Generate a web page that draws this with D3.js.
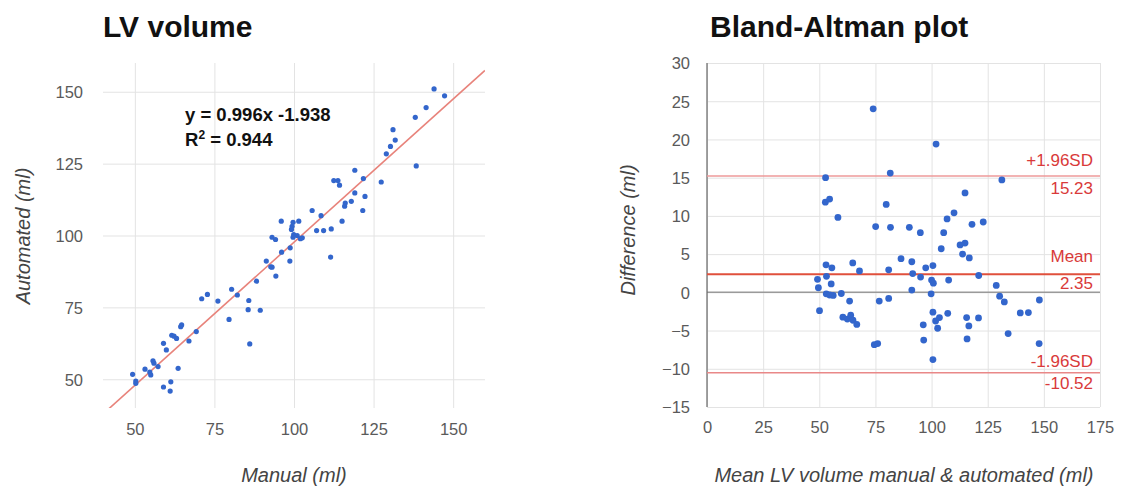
<!DOCTYPE html>
<head>
<meta charset="utf-8">
<style>
body { margin: 0; background: #fff; }
svg text { font-family: 'Liberation Sans', Arial, sans-serif; }
.grid line { stroke: #e3e3e3; stroke-width: 1; }
.grid path { display: none; }
.grid text { fill: #5a5a5a; font-size: 16.5px; }
.title { font-size: 30px; font-weight: bold; fill: #111; }
.axis-title { font-size: 20px; font-style: italic; fill: #444; }
.dot { fill: #3366cc; }
.lim { fill: #d93a3a; font-size: 17px; }
</style>
<title>LV volume / Bland-Altman</title>
</head>
<body>
<svg width="1134" height="488"></svg>
<script src="https://cdn.jsdelivr.net/npm/d3@7"></script>
<script>

// LV volume: manual vs automated (ml)
var manual = [49.3, 50.3, 50.3, 53.2, 54.7, 55.0, 55.7, 56.0, 57.3, 59.0, 59.9, 59.0, 61.3, 61.1, 61.6, 62.3,
  63.1, 63.6, 64.4, 64.7, 67.0, 69.3, 71.0, 72.8, 76.1, 79.6, 80.4, 82.2, 85.8, 85.6, 86.1, 88.2, 89.4, 91.3,
  92.7, 93.1, 94.3, 96.1, 98.7, 98.8, 111.5, 93.1, 94.2, 96.0, 99.7, 101.5, 99.4, 99.2, 99.9, 101.0, 99.7,
  102.0, 102.6, 105.7, 108.5, 107.1, 109.3, 111.7, 115.1, 116.1, 115.9, 118.0, 121.6, 119.1, 122.3, 112.5,
  113.8, 114.3, 121.8, 127.4, 119.1, 129.0, 130.3, 131.8, 131.1, 138.4, 138.1, 141.5, 144.0, 147.3];
var automated = [51.7, 49.4, 48.6, 53.5, 52.5, 51.5, 56.4, 55.6, 54.4, 62.5, 60.2, 47.3, 49.1, 45.9, 65.3, 65.0,
  64.2, 53.8, 68.3, 68.9, 63.3, 66.6, 78.0, 79.5, 77.2, 70.8, 81.3, 79.3, 77.4, 74.2, 62.3, 84.1, 74.0, 91.1,
  89.1, 89.0, 85.9, 94.2, 91.1, 95.7, 92.5, 99.4, 98.6, 105.0, 104.6, 105.0, 103.2, 102.1, 100.3, 100.0, 99.4,
  98.9, 99.2, 108.7, 106.9, 101.7, 101.7, 102.3, 105.0, 111.3, 110.2, 111.9, 108.7, 114.8, 113.6, 119.1,
  119.1, 117.5, 119.8, 118.6, 122.7, 128.4, 131.0, 133.2, 136.8, 124.2, 141.1, 144.5, 151.0, 148.6];
var lvTicks = [50, 75, 100, 125, 150];
var fitSlope = 0.996, fitIntercept = -1.938, fitR2 = 0.944;

// Bland-Altman: mean of both vs difference (ml)
var baMean = [74.0, 102.0, 52.8, 81.6, 131.3, 52.7, 54.6, 79.8, 58.3, 114.9, 110.0, 106.9, 123.0, 118.0, 75.1,
  81.7, 90.1, 95.0, 105.4, 104.3, 112.7, 114.9, 113.8, 116.8, 86.4, 91.2, 64.9, 53.0, 55.6, 67.9, 80.9, 91.6,
  95.1, 97.4, 100.6, 100.0, 100.8, 121.0, 107.6, 128.8, 130.3, 132.4, 148.0, 49.2, 49.6, 53.2, 55.3, 53.1,
  54.6, 56.2, 59.8, 63.5, 50.1, 60.5, 62.5, 64.0, 65.0, 66.7, 76.7, 80.9, 74.5, 76.0, 91.2, 99.8, 100.6, 96.3,
  96.5, 101.8, 102.7, 103.5, 107.2, 100.6, 115.6, 116.6, 115.8, 120.9, 134.1, 139.5, 143.1, 147.9];
var baDiff = [24.0, 19.4, 15.0, 15.6, 14.7, 11.8, 12.2, 11.5, 9.8, 13.0, 10.4, 9.6, 9.2, 8.9, 8.6,
  8.5, 8.5, 7.8, 7.8, 5.7, 6.2, 6.45, 5.0, 4.5, 4.4, 4.0, 3.85, 3.6, 3.2, 2.8, 2.95, 2.45,
  2.0, 3.2, 3.5, 1.6, 1.2, 2.2, 1.6, 0.9, -0.5, -1.25, -1.0, 1.7, 0.6, 2.1, 1.1, -0.2,
  -0.35, -0.4, -0.15, -1.15, -2.4, -3.25, -3.5, -3.0, -3.65, -4.2, -1.15, -0.8, -6.85, -6.7, 0.3, -0.2, -2.6, -4.25,
  -6.25, -3.75, -4.7, -3.3, -2.75, -8.8, -3.3, -4.4, -6.1, -3.35, -5.4, -2.7, -2.65, -6.7];
var baXTicks = [0, 25, 50, 75, 100, 125, 150, 175];
var baYTicks = [-15, -10, -5, 0, 5, 10, 15, 20, 25, 30];
var upperLoA = 15.23, meanDiff = 2.35, lowerLoA = -10.52;

var svg = d3.select("svg");

// ---------- left: LV volume ----------
var x1 = d3.scaleLinear().domain([40, 160]).range([103, 485]),
    y1 = d3.scaleLinear().domain([40, 160]).range([408, 63]);

var gx1 = svg.append("g")
    .attr("class", "grid")
    .attr("transform", "translate(0,408)")
    .call(d3.axisBottom(x1).tickValues(lvTicks).tickSize(-(408 - 63)));
gx1.selectAll("text").attr("y", 27).attr("dy", 0);

var gy1 = svg.append("g")
    .attr("class", "grid")
    .attr("transform", "translate(103,0)")
    .call(d3.axisLeft(y1).tickValues(lvTicks).tickSize(-(485 - 103)));
gy1.selectAll("text").attr("x", -20).attr("dy", "0.35em");

svg.append("defs").append("clipPath").attr("id", "clip1")
  .append("rect").attr("x", 103).attr("y", 63).attr("width", 382).attr("height", 345);

svg.append("line")
    .attr("clip-path", "url(#clip1)")
    .attr("x1", x1(40)).attr("y1", y1(fitSlope * 40 + fitIntercept))
    .attr("x2", x1(160)).attr("y2", y1(fitSlope * 160 + fitIntercept))
    .attr("stroke", "#e8837b")
    .attr("stroke-width", 1.6);

svg.append("g").selectAll("circle")
    .data(manual)
    .enter().append("circle")
      .attr("class", "dot")
      .attr("cx", function(d) { return x1(d); })
      .attr("cy", function(d, i) { return y1(automated[i]); })
      .attr("r", 2.6);

svg.append("text")
    .attr("x", 185).attr("y", 121)
    .style("font-size", "18.5px").style("font-weight", "bold").attr("fill", "#111")
    .text("y = " + fitSlope + "x " + fitIntercept);
var r2 = svg.append("text")
    .attr("x", 185).attr("y", 146)
    .style("font-size", "18.5px").style("font-weight", "bold").attr("fill", "#111");
r2.append("tspan").text("R");
r2.append("tspan").attr("dy", -7).style("font-size", "12px").text("2");
r2.append("tspan").attr("dy", 7).text(" = " + fitR2);

svg.append("text").attr("class", "title").attr("x", 103).attr("y", 37).text("LV volume");
svg.append("text").attr("class", "axis-title")
    .attr("x", 294).attr("y", 482).attr("text-anchor", "middle").text("Manual (ml)");
svg.append("text").attr("class", "axis-title")
    .attr("transform", "translate(30,236) rotate(-90)")
    .attr("text-anchor", "middle").text("Automated (ml)");

// ---------- right: Bland-Altman ----------
var x2 = d3.scaleLinear().domain([0, 175]).range([707, 1100]),
    y2 = d3.scaleLinear().domain([-15, 30]).range([407, 63]);

var gx2 = svg.append("g")
    .attr("class", "grid")
    .attr("transform", "translate(0,407)")
    .call(d3.axisBottom(x2).tickValues(baXTicks).tickSize(-(407 - 63)));
gx2.selectAll("text").attr("y", 26).attr("dy", 0);

var gy2 = svg.append("g")
    .attr("class", "grid")
    .attr("transform", "translate(707,0)")
    .call(d3.axisLeft(y2).tickValues(baYTicks).tickSize(-(1100 - 707)));
gy2.selectAll("text").attr("x", -17).attr("dy", "0.35em");

svg.append("line")
    .attr("x1", x2(0)).attr("x2", x2(175))
    .attr("y1", y2(0)).attr("y2", y2(0))
    .attr("stroke", "#9a9a9a").attr("stroke-width", 1.5);
svg.append("line")
    .attr("x1", x2(0)).attr("x2", x2(0))
    .attr("y1", y2(-15)).attr("y2", y2(30))
    .attr("stroke", "#666").attr("stroke-width", 1.2);

var limits = [
  {v: upperLoA, name: "+1.96SD", color: "#ee9a9a", w: 1.5, up: 10, down: 18},
  {v: meanDiff, name: "Mean", color: "#e0503c", w: 2, up: 12, down: 15},
  {v: lowerLoA, name: "-1.96SD", color: "#e98888", w: 1.5, up: 6, down: 16}
];
limits.forEach(function(l) {
  svg.append("line")
      .attr("x1", x2(0)).attr("x2", x2(175))
      .attr("y1", y2(l.v)).attr("y2", y2(l.v))
      .attr("stroke", l.color).attr("stroke-width", l.w);
  svg.append("text").attr("class", "lim").attr("text-anchor", "end")
      .attr("x", 1093).attr("y", y2(l.v) - l.up).text(l.name);
  svg.append("text").attr("class", "lim").attr("text-anchor", "end")
      .attr("x", 1093).attr("y", y2(l.v) + l.down).text(l.v.toFixed(2));
});

svg.append("g").selectAll("circle")
    .data(baMean)
    .enter().append("circle")
      .attr("class", "dot")
      .attr("cx", function(d) { return x2(d); })
      .attr("cy", function(d, i) { return y2(baDiff[i]); })
      .attr("r", 3.4);

svg.append("text").attr("class", "title").attr("x", 710).attr("y", 37).text("Bland-Altman plot");
svg.append("text").attr("class", "axis-title")
    .attr("x", 904).attr("y", 482).attr("text-anchor", "middle").text("Mean LV volume manual & automated (ml)");
svg.append("text").attr("class", "axis-title")
    .attr("transform", "translate(635,230) rotate(-90)")
    .attr("text-anchor", "middle").text("Difference (ml)");

</script>
</body>
